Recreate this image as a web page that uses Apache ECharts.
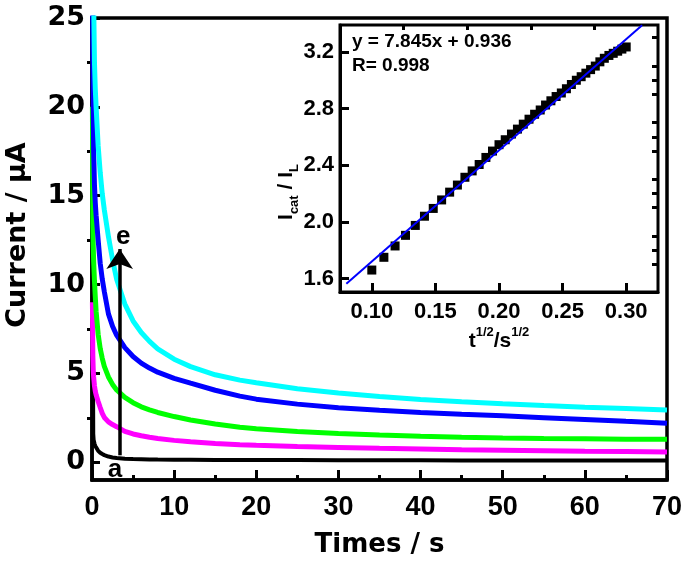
<!DOCTYPE html>
<html>
<head>
<meta charset="utf-8">
<script src="https://cdn.jsdelivr.net/npm/echarts@6/dist/echarts.min.js"></script>
<style>
  html, body { margin: 0; padding: 0; background: #fff; }
  #chart { width: 685px; height: 570px; }
</style>
</head>
<body>
<div id="chart"></div>
<script>
// chronoamperograms, curves a..e
const times = [0.05, 0.1, 0.15, 0.2, 0.3, 0.4, 0.5, 0.75, 1, 1.25, 1.5, 2, 2.5, 3, 4, 5, 6, 7, 8, 10, 12, 15, 18, 20, 25, 30, 35, 40, 45, 50, 55, 60, 65, 70];
const curveA = [40, 8, 1.6, 1.25, 1.05, 0.92, 0.82, 0.64, 0.53, 0.46, 0.4, 0.32, 0.27, 0.24, 0.2, 0.18, 0.17, 0.16, 0.15, 0.14, 0.14, 0.13, 0.13, 0.12, 0.12, 0.11, 0.11, 0.11, 0.1, 0.1, 0.1, 0.1, 0.1, 0.1];
const curveB = [9, 6, 5.2, 4.8, 4.3, 4.0, 3.8, 3.42, 3.08, 2.75, 2.52, 2.27, 2.12, 2.0, 1.74, 1.59, 1.49, 1.41, 1.34, 1.23, 1.15, 1.06, 0.99, 0.95, 0.88, 0.83, 0.78, 0.74, 0.7, 0.68, 0.65, 0.62, 0.6, 0.58];
const curveC = [20, 13.5, 12.2, 11.3, 10.2, 9.3, 8.5, 7.2, 6.4, 5.85, 5.4, 4.8, 4.38, 4.07, 3.65, 3.35, 3.12, 2.95, 2.8, 2.57, 2.38, 2.15, 1.97, 1.88, 1.73, 1.62, 1.53, 1.46, 1.41, 1.37, 1.34, 1.32, 1.3, 1.29];
const curveD = [30, 24, 20, 17.5, 15.6, 14.6, 13.9, 12.5, 11.2, 10.3, 9.6, 8.35, 7.65, 7.15, 6.45, 5.95, 5.58, 5.3, 5.07, 4.72, 4.45, 4.05, 3.72, 3.55, 3.27, 3.07, 2.92, 2.8, 2.7, 2.61, 2.51, 2.41, 2.3, 2.2];
const curveE = [40, 33, 29, 26, 22.5, 21, 20, 17.8, 16.3, 15.1, 14.2, 12.7, 11.4, 10.3, 8.9, 7.95, 7.3, 6.8, 6.38, 5.8, 5.38, 4.92, 4.62, 4.47, 4.13, 3.9, 3.7, 3.53, 3.4, 3.29, 3.19, 3.1, 3.02, 2.94];
const curveColors = ["#000000", "#ff00ff", "#00ff00", "#0000ff", "#00ffff"];

const mainYTicks = [0, 5, 10, 15, 20, 25];
const mainYMinor = [2.5, 7.5, 12.5, 17.5, 22.5];

// arrow a -> e and its letters
const arrowX = 3.37;
const arrowFrom = 0.39;
const arrowTo = 12.0;
const letters = [[3.8, 12.7, "e"], [2.8, -0.45, "a"]];

// inset: Icat/IL vs t^1/2
const insetX = [0.1, 0.1095, 0.1183, 0.1265, 0.1342, 0.1414, 0.1483, 0.1549, 0.1612, 0.1673, 0.1732, 0.1789, 0.1844, 0.1897, 0.1949, 0.2, 0.2049, 0.2098, 0.2145, 0.2191, 0.2236, 0.228, 0.2324, 0.2366, 0.2408, 0.2449, 0.249, 0.253, 0.2569, 0.2608, 0.2646, 0.2683, 0.272, 0.2757, 0.2793, 0.2828, 0.2864, 0.2898, 0.2933, 0.2966, 0.3];
const insetY = [1.66, 1.75, 1.83, 1.905, 1.975, 2.04, 2.095, 2.155, 2.21, 2.26, 2.315, 2.36, 2.405, 2.455, 2.5, 2.545, 2.58, 2.62, 2.655, 2.69, 2.725, 2.76, 2.79, 2.825, 2.855, 2.885, 2.91, 2.94, 2.97, 3.0, 3.025, 3.05, 3.075, 3.1, 3.13, 3.155, 3.175, 3.19, 3.205, 3.22, 3.235];
const fitX = [0.08, 0.3125];
const fitY = [1.564, 3.388];
const insetXTicks = [0.1, 0.15, 0.2, 0.25, 0.3];
const insetXMinor = [0.125, 0.175, 0.225, 0.275];
const insetYTicks = [1.6, 2.0, 2.4, 2.8, 3.2];
const insetYMinor = [1.7, 1.8, 1.9, 2.1, 2.2, 2.3, 2.5, 2.6, 2.7, 2.9, 3.0, 3.1, 3.3];

const fitText = ["y = 7.845x + 0.936", "R= 0.998"];

const ARIAL = "'Liberation Sans', Arial, sans-serif";
const WIDE = "'DejaVu Sans', sans-serif";

function pairs(xs, ys) {
  return xs.map((x, i) => [x, ys[i]]);
}

const chart = echarts.init(document.getElementById("chart"), null, { renderer: "canvas" });

const black = "#000";
const tickStyle = { color: black, width: 3 };

chart.setOption({
  animation: false,
  backgroundColor: "#fff",
  grid: [
    { left: 92, right: 18, top: 18, bottom: 90, show: true, borderColor: black, borderWidth: 3.5, outerBoundsMode: "none", containLabel: false },
    { left: 340, right: 27, top: 25, bottom: 278, show: true, borderColor: black, borderWidth: 3, outerBoundsMode: "none", containLabel: false },
  ],
  xAxis: [
    {
      gridIndex: 0, type: "value", min: 0, max: 70, interval: 10,
      name: "Times / s", nameLocation: "middle", nameGap: 52,
      nameTextStyle: { fontFamily: WIDE, fontWeight: "bold", fontSize: 26, color: black },
      axisLine: { show: true, onZero: false, lineStyle: { color: black, width: 3.5 } },
      axisTick: { inside: true, length: 10, lineStyle: tickStyle },
      minorTick: { show: true, splitNumber: 2, length: 5, lineStyle: tickStyle },
      splitLine: { show: false },
      axisLabel: { margin: 14, fontFamily: ARIAL, fontWeight: "bold", fontSize: 27, color: black },
    },
    {
      gridIndex: 1, type: "value", min: 0.075, max: 0.325,
      name: "{b|t}{s|1/2}{b|/s}{s|1/2}", nameLocation: "middle", nameGap: 34,
      nameTextStyle: {
        rich: {
          b: { fontFamily: ARIAL, fontWeight: "bold", fontSize: 21, lineHeight: 30, color: black },
          s: { fontFamily: ARIAL, fontWeight: "bold", fontSize: 13, lineHeight: 13, verticalAlign: "top", color: black },
        },
      },
      axisLine: { show: true, onZero: false, lineStyle: { color: black, width: 3 } },
      axisTick: { inside: true, length: 9, customValues: insetXTicks, lineStyle: tickStyle },
      splitLine: { show: false },
      axisLabel: {
        customValues: insetXTicks, margin: 9,
        fontFamily: ARIAL, fontWeight: "bold", fontSize: 22, color: black,
        formatter: (v) => v.toFixed(2),
      },
    },
    {
      gridIndex: 1, type: "value", min: 0.075, max: 0.325,
      axisLine: { show: false },
      axisTick: { inside: true, length: 5, customValues: insetXMinor, lineStyle: tickStyle },
      axisLabel: { show: false },
      splitLine: { show: false },
    },
  ],
  yAxis: [
    {
      gridIndex: 0, type: "value", min: -1, max: 25,
      axisLine: { show: true, onZero: false, lineStyle: { color: black, width: 3.5 } },
      axisTick: { inside: true, length: 8, customValues: mainYTicks, lineStyle: tickStyle },
      splitLine: { show: false },
      axisLabel: { customValues: mainYTicks, margin: 7, fontFamily: WIDE, fontWeight: "bold", fontSize: 27, color: black },
    },
    {
      gridIndex: 0, type: "value", min: -1, max: 25,
      axisLine: { show: false },
      axisTick: { inside: true, length: 5, customValues: mainYMinor, lineStyle: tickStyle },
      axisLabel: { show: false },
      splitLine: { show: false },
    },
    {
      gridIndex: 1, type: "value", min: 1.505, max: 3.39,
      axisLine: { show: true, onZero: false, lineStyle: { color: black, width: 3 } },
      axisTick: { inside: true, length: 9, customValues: insetYTicks, lineStyle: tickStyle },
      splitLine: { show: false },
      axisLabel: {
        customValues: insetYTicks, margin: 6,
        fontFamily: ARIAL, fontWeight: "bold", fontSize: 22, color: black,
        formatter: (v) => v.toFixed(1),
      },
    },
    {
      gridIndex: 1, type: "value", min: 1.505, max: 3.39,
      axisLine: { show: false },
      axisTick: { inside: true, length: 6, customValues: insetYMinor, lineStyle: tickStyle },
      axisLabel: { show: false },
      splitLine: { show: false },
    },
  ],
  graphic: [
    { type: "text", left: 352, top: 32, style: { text: fitText[0], fill: black, font: "bold 19px " + ARIAL } },
    { type: "text", left: 352, top: 56, style: { text: fitText[1], fill: black, font: "bold 19px " + ARIAL } },
    {
      type: "text", x: 18, y: 235, rotation: Math.PI / 2,
      style: { text: "Current / μA", fill: black, font: "bold 27px " + WIDE, align: "center", verticalAlign: "middle" },
    },
    {
      type: "text", x: 286, y: 192, rotation: Math.PI / 2,
      style: {
        text: "{b|I}{s|cat}{b| / I}{s|L}", align: "center", verticalAlign: "middle",
        rich: {
          b: { fontFamily: ARIAL, fontWeight: "bold", fontSize: 21, lineHeight: 30, fill: black },
          s: { fontFamily: ARIAL, fontWeight: "bold", fontSize: 13, lineHeight: 13, verticalAlign: "bottom", fill: black },
        },
      },
    },
  ],
  series: [
    ...[curveA, curveB, curveC, curveD, curveE].map((curve, i) => ({
      type: "line",
      xAxisIndex: 0,
      yAxisIndex: 0,
      data: pairs(times, curve),
      showSymbol: false,
      smooth: false,
      lineStyle: { color: curveColors[i], width: i === 0 ? 4 : 5 },
      z: 2,
    })),
    {
      type: "scatter",
      xAxisIndex: 0,
      yAxisIndex: 0,
      data: letters,
      symbolSize: 0,
      z: 10,
      itemStyle: { opacity: 1 },
      label: {
        show: true,
        position: "inside",
        formatter: (p) => p.data[2],
        fontFamily: ARIAL, fontWeight: "bold", fontSize: 26, color: black,
      },
      markLine: {
        silent: true,
        z: 20,
        symbol: ["none", "arrow"],
        symbolSize: 20,
        label: { show: false },
        lineStyle: { color: black, width: 3.5, type: "solid", opacity: 1 },
        itemStyle: { color: black, opacity: 1 },
        data: [[{ coord: [arrowX, arrowFrom] }, { coord: [arrowX, arrowTo] }]],
      },
    },
    {
      type: "scatter",
      xAxisIndex: 1,
      yAxisIndex: 2,
      data: pairs(insetX, insetY),
      symbol: "rect",
      symbolSize: 9,
      itemStyle: { color: black, opacity: 1 },
    },
    {
      type: "line",
      xAxisIndex: 1,
      yAxisIndex: 2,
      data: pairs(fitX, fitY),
      showSymbol: false,
      lineStyle: { color: "#0000ff", width: 2 },
      z: 5,
    },
  ],
});
</script>
</body>
</html>
